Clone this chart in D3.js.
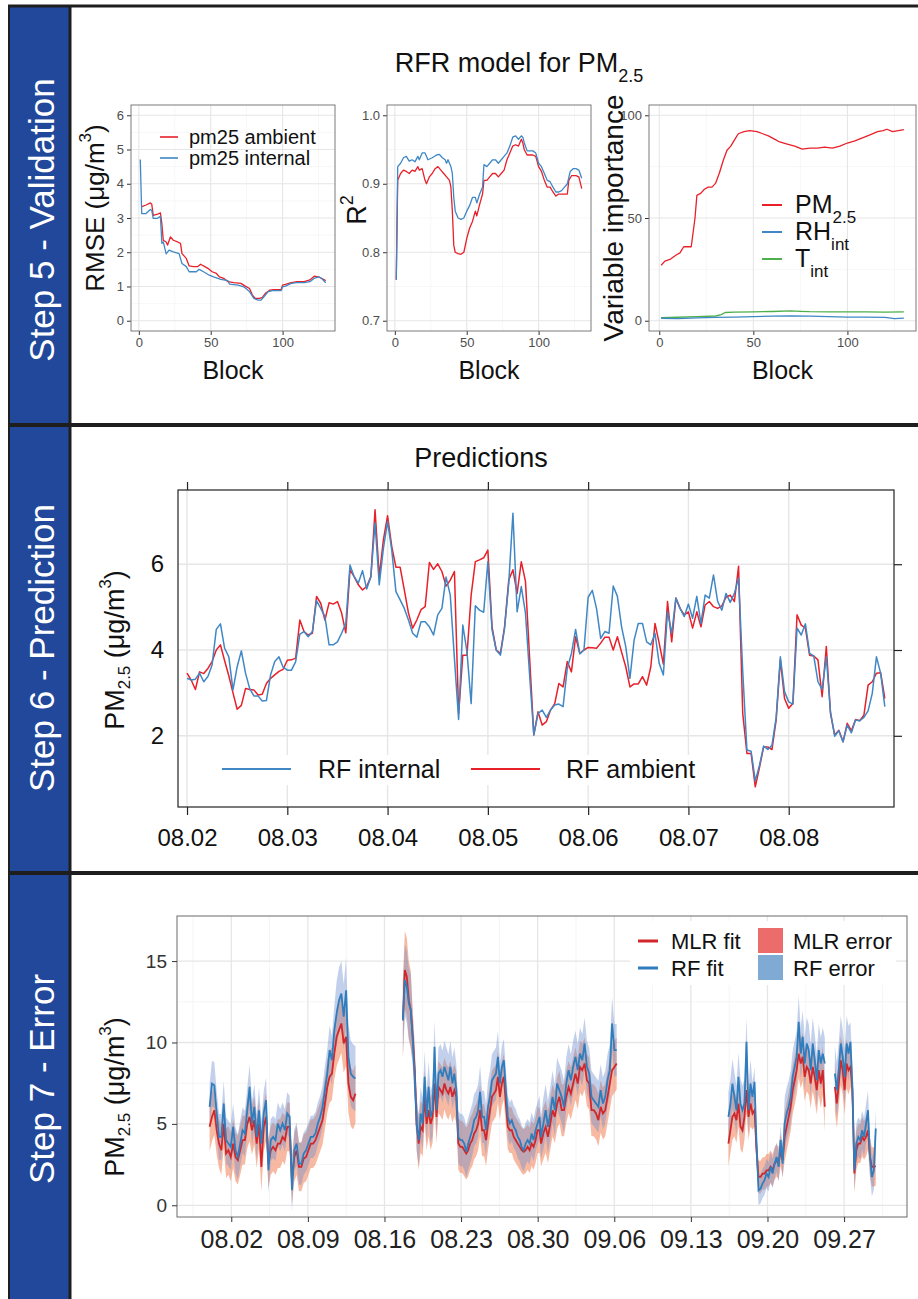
<!DOCTYPE html>
<html><head><meta charset="utf-8">
<script src="https://cdn.jsdelivr.net/npm/d3@7/dist/d3.min.js"></script>
<style>
html,body{margin:0;padding:0;background:#fff;}
svg{display:block;}
text{font-family:"Liberation Sans",Arial,Helvetica,sans-serif;}
</style></head><body>
<svg id="fig" width="918" height="1299"></svg>
<script>
// ================= DATA =================
// Step 5 – RMSE vs block
const rmseAmbBlock = [2,5,8,9,10,13,15,16,17,19,20,22,24,27,29,30,33,35,38,41,43,45,48,51,54,56,59,62,66,71,74,77,79,81,84,86,88,91,94,99,100,102,106,110,115,119,122,125,127,130];
const rmseAmb = [3.33,3.38,3.44,3.40,3.08,3.11,3.15,2.84,2.35,2.30,2.21,2.45,2.35,2.30,2.26,1.96,1.82,1.60,1.58,1.58,1.65,1.60,1.53,1.43,1.38,1.28,1.24,1.14,1.11,1.09,1.01,0.94,0.75,0.65,0.65,0.68,0.80,0.89,0.91,0.91,1.04,1.06,1.11,1.14,1.14,1.19,1.30,1.28,1.24,1.17];
const rmseIntBlock = [1,2,5,8,9,10,13,15,16,17,19,21,24,28,30,33,35,40,42,45,49,52,57,62,63,69,73,77,80,83,85,87,90,93,99,100,102,106,110,115,119,122,125,127,130];
const rmseInt = [4.71,3.13,3.13,3.25,3.22,2.99,2.99,3.05,2.26,2.30,1.95,2.06,2.01,1.96,1.67,1.58,1.43,1.43,1.50,1.43,1.33,1.28,1.21,1.17,1.07,1.04,0.99,0.85,0.65,0.60,0.60,0.70,0.85,0.88,0.88,0.99,1.01,1.09,1.11,1.11,1.14,1.24,1.28,1.24,1.11];
// Step 5 – R2 vs block
const r2IntBlock = [1,2,4,6,8,10,12,14,16,17,19,21,23,26,29,31,33,35,36,37,39,40,41,42,44,46,48,50,52,54,56,57,59,61,62,64,66,68,70,72,74,76,78,80,82,84,86,88,89,90,92,96,98,100,102,104,106,108,110,112,114,116,118,120,122,124,126,128,130];
const r2Int = [0.76,0.925,0.93,0.938,0.94,0.933,0.935,0.932,0.94,0.935,0.945,0.945,0.935,0.938,0.942,0.943,0.938,0.935,0.93,0.935,0.925,0.915,0.88,0.86,0.85,0.848,0.85,0.86,0.868,0.88,0.88,0.872,0.885,0.895,0.928,0.925,0.93,0.935,0.935,0.93,0.935,0.94,0.945,0.955,0.968,0.97,0.965,0.97,0.968,0.96,0.948,0.948,0.945,0.93,0.925,0.915,0.905,0.903,0.895,0.888,0.888,0.89,0.895,0.9,0.918,0.922,0.922,0.92,0.908];
const r2AmbBlock = [1,2,4,6,8,10,12,14,16,17,19,21,22,24,26,28,30,32,34,36,38,39,40,41,42,44,46,48,50,52,54,56,57,59,61,62,64,66,68,70,72,74,76,78,80,82,84,86,88,89,90,92,96,98,100,102,104,106,108,110,112,114,116,118,120,121,123,126,128,130];
const r2Amb = [0.76,0.905,0.915,0.92,0.918,0.915,0.92,0.918,0.925,0.92,0.922,0.905,0.9,0.91,0.915,0.922,0.925,0.92,0.915,0.91,0.905,0.895,0.86,0.81,0.8,0.798,0.797,0.8,0.82,0.835,0.845,0.86,0.853,0.87,0.885,0.905,0.905,0.91,0.915,0.915,0.91,0.915,0.92,0.935,0.945,0.955,0.957,0.955,0.965,0.96,0.95,0.942,0.942,0.94,0.925,0.918,0.905,0.895,0.895,0.888,0.882,0.885,0.885,0.885,0.885,0.905,0.912,0.912,0.91,0.893];
// Step 5 – variable importance vs block
const viPMBlock = [1,3,6,9,11,13,16,17,19,20,22,24,26,28,30,32,34,36,38,40,42,45,48,52,55,58,61,64,68,72,76,80,84,88,92,96,100,104,108,112,116,119,121,124,127,130];
const viPM = [27,29,30,32,33,36,36,36,50,61,62,64,65,65,67,72,78,83,85,88,91,92,92.5,92,91,90,88.5,87,86,85,83.5,84,84,84.5,84,85,86.5,87.5,89,90.5,92,92.5,93.2,92,92.5,93];
const viRHBlock = [1,10,20,30,40,50,60,70,80,90,100,110,120,125,130];
const viRH = [1.2,1.0,1.4,1.6,1.8,2.0,2.2,2.3,2.2,2.0,1.8,1.8,1.6,1.0,1.3];
const viTBlock = [1,10,20,30,33,35,40,50,60,70,75,80,90,100,110,120,130];
const viT = [1.5,1.7,2.0,2.3,3.0,4.0,4.2,4.3,4.5,4.8,4.6,4.4,4.3,4.3,4.3,4.2,4.3];

// Step 6 – hourly predictions starting 08.02 00:00
const predInternal = [3.34,3.30,3.32,3.46,3.26,3.38,3.65,4.48,4.61,4.04,3.84,3.07,3.61,3.98,3.46,3.10,2.93,2.93,2.81,2.82,3.42,3.73,3.84,3.60,
3.53,3.53,3.73,4.37,4.43,4.31,4.43,5.15,4.97,4.78,4.12,4.12,4.19,4.39,4.62,5.98,5.71,5.56,5.85,5.42,5.71,6.96,5.52,6.37,
7.00,6.33,5.36,5.17,4.97,4.70,4.39,4.30,4.66,4.66,4.54,4.35,4.82,4.97,5.70,5.28,3.80,2.38,4.58,3.96,2.75,5.03,4.93,4.88,
6.06,4.47,4.00,3.88,4.51,5.56,7.19,4.89,5.48,4.86,3.40,2.02,2.52,2.60,2.43,2.60,2.72,2.74,2.68,3.57,3.92,4.48,3.91,4.00,
5.23,5.39,4.97,4.27,4.43,4.39,5.49,5.25,4.54,4.08,3.34,4.23,4.62,4.62,4.19,4.12,4.39,3.69,3.42,4.89,4.39,5.21,4.97,4.78,
5.07,4.74,5.25,4.62,5.28,5.21,5.75,5.13,4.93,5.32,5.11,5.32,5.68,3.50,1.67,1.64,0.95,1.31,1.76,1.68,1.78,2.43,3.84,3.03,
2.79,2.74,4.51,4.35,4.61,3.92,3.86,3.26,3.08,3.84,2.56,1.99,2.12,1.86,2.25,2.07,2.37,2.35,2.43,2.58,2.99,3.84,3.46,2.68];
const predAmbient = [3.46,3.30,3.08,3.49,3.45,3.57,3.73,4.00,4.12,3.75,3.40,3.00,2.62,2.71,3.10,3.08,3.07,2.95,2.97,3.22,3.34,3.42,3.50,3.55,
3.76,3.77,3.81,4.70,4.43,4.35,4.39,5.25,5.09,4.70,5.10,5.07,5.13,4.86,4.40,5.87,5.71,5.52,5.40,5.48,5.71,7.27,5.71,6.57,
7.13,6.41,5.93,5.93,5.40,4.86,4.51,4.70,4.94,5.01,6.04,5.88,6.01,5.83,5.49,5.63,5.83,2.52,3.88,3.88,5.28,6.06,6.10,6.15,
6.33,4.54,4.00,3.92,4.54,5.63,5.87,5.32,6.06,5.60,3.80,2.02,2.56,2.25,2.33,2.60,2.75,3.22,3.14,3.73,3.49,4.31,3.92,4.00,
4.06,4.05,4.04,4.16,4.30,4.30,4.00,4.31,3.95,3.61,3.14,3.21,3.21,3.38,3.18,3.61,4.62,4.16,3.67,5.13,4.19,5.21,4.97,4.82,
4.89,4.51,4.89,4.54,5.05,5.13,5.01,4.97,5.03,5.23,5.28,5.13,5.95,2.52,1.59,1.59,0.81,1.26,1.74,1.74,1.68,2.37,3.77,2.87,
2.64,2.75,4.82,4.58,4.51,3.88,3.86,3.77,2.91,4.08,2.52,2.02,2.13,1.86,2.29,2.12,2.38,2.35,2.48,3.18,3.26,3.46,3.47,2.87];
const predDayLabels = ["08.02","08.03","08.04","08.05","08.06","08.07","08.08"];

// Step 7 – fits (days from 08.02), runs of equally spaced samples; runs with same seg are joined
const errRuns = [
 {seg:0, start:-1.98, step:0.215,
  rf:[6.05,7.48,7.38,5.64,4.2,4.2,6.25,4.0,3.79,3.59,4.82,3.38,2.97,3.79,4.61,4.41,5.84,7.27,5.02,6.05,4.2,5.84,3.79,5.64,6.45,2.15,4.0,4.2,4.0,5.02,4.61,5.02,4.61,5.64,5.43,0.92,3.38,3.79,2.56,2.56,3.18,3.38,3.79,4.2,4.2,4.41,5.02,5.43,6.05,7.07,8.09,9.53,8.91,10.76,11.78,12.6,13.0,11.58,13.2,9.12,8.09,7.89,7.79],
  mlr:[4.82,5.43,5.84,4.61,3.79,3.38,5.0,3.18,3.38,2.97,3.79,2.97,2.77,3.38,4.0,4.0,5.0,5.43,4.61,5.23,3.79,5.0,2.36,4.82,5.43,2.56,3.38,3.59,3.38,3.79,3.79,4.2,4.0,4.82,4.82,1.54,2.97,3.38,2.36,2.36,2.87,2.97,3.38,3.79,3.79,4.0,4.41,4.82,5.23,6.25,7.27,7.89,8.09,9.32,10.35,10.76,11.17,9.94,10.35,7.48,6.66,6.45,6.86]},
 {seg:1, start:15.68, step:0.181,
  rf:[11.37,13.83,13.42,12.4,11.99,10.14,7.89,4.92,4.0,5.64,5.02,7.89,5.43,7.27,5.43,5.84,9.73,5.84,8.09,8.3,7.89,8.5,8.09,7.68,8.5,7.48,8.09,7.07,4.2,4.0,4.0,3.79,3.28,3.79,4.2,4.61,5.23,5.43,5.84,6.97,5.43,5.43,4.61,6.05,6.66,7.68,7.89,8.09,9.12,7.48,8.5,8.91,7.07,5.43,5.02,5.23,4.82,4.61,4.2,4.0,3.59,3.38,3.79,4.0,3.79,4.41,4.0,4.61,5.02,5.43],
  mlr:[11.37,14.45,14.04,12.6,11.99,10.35,8.3,4.92,3.79,4.82,4.61,6.66,5.0,5.84,5.0,5.43,7.48,5.43,7.27,7.07,6.86,7.48,7.07,6.86,7.27,6.66,7.07,6.66,3.79,3.59,3.59,3.38,3.18,3.38,3.79,4.0,4.41,4.61,5.0,5.84,4.61,4.61,4.0,5.0,5.84,6.66,6.86,7.07,7.89,6.66,7.48,7.89,6.25,4.82,4.61,4.61,4.2,4.0,3.79,3.59,3.38,3.28,3.38,3.59,3.38,3.79,3.59,4.0,4.61,4.61]},
 {seg:1, start:28.31, step:0.2094,
  rf:[4.2,5.02,5.84,4.82,5.64,6.66,5.84,7.48,7.07,6.66,6.05,7.48,8.3,7.68,8.5,9.12,8.3,9.32,8.91,9.94,8.5,8.09,6.66,6.45,6.25,6.05,7.07,6.25,6.66,7.68,8.3,11.17,9.53,9.53],
  mlr:[3.79,4.41,4.82,4.2,5.0,5.84,5.43,6.25,6.66,5.84,5.84,6.66,7.27,6.86,7.48,8.09,7.48,8.5,8.3,8.71,7.68,7.48,5.84,5.84,5.64,5.23,6.05,5.64,5.84,6.66,7.48,8.3,8.5,8.71]},
 {seg:2, start:45.43, step:0.1835,
  rf:[5.43,6.25,7.48,6.66,5.84,7.89,6.25,5.84,6.25,10.04,5.84,7.48,6.66,7.58,3.79,0.92,1.02,1.33,1.54,1.95,1.74,2.36,1.95,2.56,2.97,2.36,4.0,2.56,5.02,5.64,6.05,6.66,7.89,8.5,9.12,11.27,9.32,10.35,8.71,9.94,9.53,8.3,9.94,8.91,7.68,9.53,8.71,9.32,8.71],
  mlr:[3.79,4.61,5.43,5.64,5.23,6.25,4.82,4.61,5.43,7.07,5.43,6.25,5.64,5.84,3.38,1.74,1.74,1.95,1.95,2.15,2.15,2.36,2.15,2.56,2.77,2.56,3.38,2.77,4.2,4.82,5.43,6.05,7.07,7.68,8.3,9.32,8.71,9.12,7.89,8.5,8.3,7.48,8.5,7.89,7.07,8.3,7.48,8.3,6.05]},
 {seg:3, start:55.16, step:0.178,
  rf:[8.09,7.07,8.3,9.94,9.12,7.89,9.94,9.32,10.04,7.27,2.15,3.79,4.2,4.0,4.61,4.2,5.02,5.84,2.97,1.74,2.15,4.72],
  mlr:[7.27,6.25,7.48,8.91,8.3,7.07,8.71,8.3,8.5,7.07,1.95,3.38,3.79,3.79,4.2,4.0,4.2,4.61,2.97,2.36,2.36,2.4]}
];
// daily error half-widths, day -2 ... 59
const rfErrDaily  = [1.4,1.4,1.4,1.4,1.4,1.4, 1.3,1.3,1.3,1.3,1.3, 1.5, 2.0,2.0, 1.5,1.5,1.5, 2.2,2.2, 1.6,1.6,1.6,1.6,1.6,1.6,1.6,1.6, 1.3,1.3,1.3,1.3, 1.6,1.6,1.6,1.6,1.6,1.6,1.6, 1.5,1.5,1.5,1.5,1.5,1.5,1.5,1.5,1.5, 1.5,1.5,1.5, 0.9,0.9,0.9, 1.6,1.6,1.6,1.6, 1.7,1.7, 1.2,1.2,1.2];
const mlrErrDaily = [1.5,1.5,1.5,1.5,1.5,1.5, 1.5,1.5,1.5,1.5,1.5, 1.6, 1.8,1.8, 1.5,1.5,1.5, 2.4,2.4, 1.6,1.6,1.6,1.6,1.6,1.6,1.6,1.6, 1.4,1.4,1.4,1.4, 1.6,1.6,1.6,1.6,1.6,1.6,1.6, 1.5,1.5,1.5,1.5,1.5,1.5,1.5,1.5,1.5, 1.4,1.4,1.4, 1.0,1.0,1.0, 1.5,1.5,1.5,1.5, 1.5,1.5, 1.2,1.2,1.2];
const errTickDays = [0,7,14,21,28,35,42,49,56];
const errTickLabels = ["08.02","08.09","08.16","08.23","08.30","09.06","09.13","09.20","09.27"];

// ================= DRAW =================
const svg = d3.select("#fig");
const RED = "#e8202a", BLUE = "#3f88c5", GREEN = "#4daf4a";
let cid = 0;
function clipRect(x0,y0,x1,y1){
  const id = "cp"+(cid++);
  svg.append("clipPath").attr("id",id).append("rect").attr("x",x0).attr("y",y0).attr("width",x1-x0).attr("height",y1-y0);
  return "url(#"+id+")";
}
function styleAxis(g, size, color){
  g.attr("font-size",null).attr("font-family",null);
  g.select(".domain").remove();
  g.selectAll("text").attr("font-size",size).attr("fill",color);
  g.selectAll("line").attr("stroke","#333");
}
function gridLines(g, xs, ys, xVals, yVals, color, width){
  const [x0,x1] = xs.range(), [y1,y0] = ys.range();
  g.selectAll(null).data(xVals).enter().append("line")
   .attr("x1",d=>xs(d)).attr("x2",d=>xs(d)).attr("y1",y0).attr("y2",y1)
   .attr("stroke",color).attr("stroke-width",width);
  g.selectAll(null).data(yVals).enter().append("line")
   .attr("y1",d=>ys(d)).attr("y2",d=>ys(d)).attr("x1",x0).attr("x2",x1)
   .attr("stroke",color).attr("stroke-width",width);
}
function pmLabel(x,y,size){
  const t = svg.append("text").attr("transform",`translate(${x},${y}) rotate(-90)`).attr("text-anchor","middle").attr("dominant-baseline","central").attr("font-size",size).attr("fill","#111");
  t.append("tspan").text("PM");
  t.append("tspan").attr("baseline-shift","sub").attr("font-size",size*0.63).text("2.5");
  t.append("tspan").text(" (μg/m");
  t.append("tspan").attr("baseline-shift","super").attr("font-size",size*0.63).text("3");
  t.append("tspan").text(")");
}

// ---------- frame ----------
svg.append("rect").attr("x",9).attr("y",6).attr("width",61).attr("height",1293).attr("fill","#21489a");
[[6,3],[425,4],[873,4]].forEach(([y,w])=>svg.append("line").attr("x1",8).attr("x2",918).attr("y1",y).attr("y2",y).attr("stroke","#1e1e1e").attr("stroke-width",w));
svg.append("line").attr("x1",9).attr("x2",9).attr("y1",5).attr("y2",1299).attr("stroke","#1e1e1e").attr("stroke-width",2);
svg.append("line").attr("x1",70).attr("x2",70).attr("y1",5).attr("y2",1299).attr("stroke","#1e1e1e").attr("stroke-width",3);
[["Step 5 - Validation",220],["Step 6 - Prediction",648],["Step 7 - Error",1079]].forEach(([t,y])=>{
  svg.append("text").attr("transform",`translate(41,${y}) rotate(-90)`).attr("text-anchor","middle")
   .attr("dominant-baseline","central").attr("fill","#fff").attr("font-size",35).text(t);
});

// ---------- Step 5 ----------
const t5 = svg.append("text").attr("x",519).attr("y",72).attr("text-anchor","middle").attr("font-size",27).attr("fill","#111");
t5.append("tspan").text("RFR model for PM");
t5.append("tspan").attr("baseline-shift","sub").attr("font-size",18).text("2.5");

function topPanel(x0,x1,yDom,yMaj,yMin,yFmt){
  const xs = d3.scaleLinear().domain([-5.45,136.45]).range([x0,x1]);
  const ys = d3.scaleLinear().domain(yDom).range([331,105]);
  const g = svg.append("g");
  g.append("rect").attr("x",x0).attr("y",105).attr("width",x1-x0).attr("height",226).attr("fill","#fff");
  gridLines(g, xs, ys, [25,75,125], yMin, "#f2f2f2", 0.6);
  gridLines(g, xs, ys, [0,50,100], yMaj, "#e6e6e6", 1.1);
  const ax = g.append("g").attr("transform","translate(0,331)").call(d3.axisBottom(xs).tickValues([0,50,100]).tickSize(4).tickPadding(3));
  styleAxis(ax, 13, "#4d4d4d");
  const ay = g.append("g").attr("transform",`translate(${x0},0)`).call(d3.axisLeft(ys).tickValues(yMaj).tickSize(4).tickPadding(3).tickFormat(yFmt));
  styleAxis(ay, 13, "#4d4d4d");
  const data = g.append("g").attr("clip-path", clipRect(x0,105,x1,331));
  g.append("rect").attr("x",x0).attr("y",105).attr("width",x1-x0).attr("height",226).attr("fill","none").attr("stroke","#7a7a7a").attr("stroke-width",1);
  g.append("text").attr("x",(x0+x1)/2).attr("y",379).attr("text-anchor","middle").attr("font-size",25).attr("fill","#111").text("Block");
  return {xs, ys, data};
}
function drawLine(layer, xs, ys, xArr, yArr, color, w){
  const pts = xArr.map((x,i)=>[x,yArr[i]]);
  layer.append("path").attr("d", d3.line().x(d=>xs(d[0])).y(d=>ys(d[1]))(pts))
    .attr("fill","none").attr("stroke",color).attr("stroke-width",w).attr("stroke-linejoin","round");
}
// RMSE panel
const p1 = topPanel(131,335,[-0.3,6.3],[0,1,2,3,4,5,6],[0.5,1.5,2.5,3.5,4.5,5.5],d3.format("d"));
drawLine(p1.data,p1.xs,p1.ys,rmseAmbBlock,rmseAmb,RED,1.3);
drawLine(p1.data,p1.xs,p1.ys,rmseIntBlock,rmseInt,BLUE,1.3);
[["pm25 ambient",RED,137],["pm25 internal",BLUE,158]].forEach(([t,c,y])=>{
  svg.append("line").attr("x1",160).attr("x2",178).attr("y1",y).attr("y2",y).attr("stroke",c).attr("stroke-width",1.6);
  svg.append("text").attr("x",189).attr("y",y).attr("dominant-baseline","central").attr("font-size",20).attr("fill","#111").text(t);
});
const yl1 = svg.append("text").attr("transform","translate(95,208) rotate(-90)").attr("text-anchor","middle").attr("dominant-baseline","central").attr("font-size",26).attr("fill","#111");
yl1.append("tspan").text("RMSE (μg/m");
yl1.append("tspan").attr("baseline-shift","super").attr("font-size",17).text("3");
yl1.append("tspan").text(")");
// R2 panel
const p2 = topPanel(387,591,[0.685,1.015],[0.7,0.8,0.9,1.0],[0.75,0.85,0.95],d3.format(".1f"));
drawLine(p2.data,p2.xs,p2.ys,r2AmbBlock,r2Amb,RED,1.3);
drawLine(p2.data,p2.xs,p2.ys,r2IntBlock,r2Int,BLUE,1.3);
const yl2 = svg.append("text").attr("transform","translate(357,210) rotate(-90)").attr("text-anchor","middle").attr("dominant-baseline","central").attr("font-size",27).attr("fill","#111");
yl2.append("tspan").text("R");
yl2.append("tspan").attr("baseline-shift","super").attr("font-size",18).text("2");
// Variable importance panel
const p3 = topPanel(649,916,[-5,105],[0,50,100],[25,75],d3.format("d"));
drawLine(p3.data,p3.xs,p3.ys,viTBlock,viT,GREEN,1.3);
drawLine(p3.data,p3.xs,p3.ys,viRHBlock,viRH,BLUE,1.3);
drawLine(p3.data,p3.xs,p3.ys,viPMBlock,viPM,RED,1.3);
svg.append("text").attr("transform","translate(613,218) rotate(-90)").attr("text-anchor","middle").attr("dominant-baseline","central").attr("font-size",28).attr("fill","#111").text("Variable importance");
[["PM","2.5",RED,205],["RH","int",BLUE,232],["T","int",GREEN,259]].forEach(([a,b,c,y])=>{
  svg.append("line").attr("x1",762).attr("x2",782).attr("y1",y).attr("y2",y).attr("stroke",c).attr("stroke-width",2);
  const t = svg.append("text").attr("x",795).attr("y",y+8).attr("font-size",25).attr("fill","#111");
  t.append("tspan").text(a);
  t.append("tspan").attr("baseline-shift","sub").attr("font-size",17).text(b);
});

// ---------- Step 6 ----------
{
  const x0=178,x1=894,y0=490,y1=807;
  const xs = d3.scaleLinear().domain([-0.09,7.05]).range([x0,x1]);
  const ys = d3.scaleLinear().domain([0.34,7.73]).range([y1,y0]);
  const g = svg.append("g");
  svg.append("text").attr("x",481).attr("y",467).attr("text-anchor","middle").attr("font-size",27).attr("fill","#111").text("Predictions");
  gridLines(g, xs, ys, d3.range(7), [2,4,6], "#e6e6e6", 1.4);
  // legend background
  g.append("rect").attr("x",205).attr("y",755).attr("width",500).attr("height",30).attr("fill","#fff");
  const data = g.append("g").attr("clip-path", clipRect(x0,y0,x1,y1));
  const hrs = predInternal.map((v,i)=>i/24);
  drawLine(data, xs, ys, hrs, predAmbient, RED, 1.5);
  drawLine(data, xs, ys, hrs, predInternal, BLUE, 1.5);
  g.append("rect").attr("x",x0).attr("y",y0).attr("width",x1-x0).attr("height",y1-y0).attr("fill","none").attr("stroke","#222").attr("stroke-width",1.2);
  const fmtD = (d,i)=>predDayLabels[i];
  const ab = g.append("g").attr("transform",`translate(0,${y1})`).call(d3.axisBottom(xs).tickValues(d3.range(7)).tickSize(8).tickPadding(14).tickFormat(fmtD));
  styleAxis(ab, 24, "#111");
  const at = g.append("g").attr("transform",`translate(0,${y0})`).call(d3.axisTop(xs).tickValues(d3.range(7)).tickSize(8).tickFormat(""));
  styleAxis(at, 1, "#111");
  const al = g.append("g").attr("transform",`translate(${x0},0)`).call(d3.axisLeft(ys).tickValues([2,4,6]).tickSize(0).tickPadding(14).tickFormat(d3.format("d")));
  styleAxis(al, 24, "#111");
  const ar = g.append("g").attr("transform",`translate(${x1},0)`).call(d3.axisRight(ys).tickValues([2,4,6]).tickSize(8).tickFormat(""));
  styleAxis(ar, 1, "#111");
  g.selectAll("g.tick line").attr("stroke","#222").attr("stroke-width",1.2);
  // legend
  [["RF internal",BLUE,222,291,318],["RF ambient",RED,471,540,566]].forEach(([t,c,a,b,tx])=>{
    g.append("line").attr("x1",a).attr("x2",b).attr("y1",769).attr("y2",769).attr("stroke",c).attr("stroke-width",1.8);
    g.append("text").attr("x",tx).attr("y",769).attr("dominant-baseline","central").attr("font-size",25).attr("fill","#111").text(t);
  });
  pmLabel(115,650,27);
}

// ---------- Step 7 ----------
{
  const x0=177,x1=907,y0=916,y1=1217;
  const xs = d3.scaleLinear().domain([-4.96,61.75]).range([x0,x1]);
  const ys = d3.scaleLinear().domain([-0.72,17.77]).range([y1,y0]);
  const g = svg.append("g");
  g.append("rect").attr("x",x0).attr("y",y0).attr("width",x1-x0).attr("height",y1-y0).attr("fill","#fff");
  gridLines(g, xs, ys, errTickDays.map(d=>d-3.5).concat([59.5]), [2.5,7.5,12.5], "#f1f1f1", 0.7);
  gridLines(g, xs, ys, errTickDays, [0,5,10,15], "#e6e6e6", 1.3);
  const segs = d3.groups(errRuns.flatMap(r=>r.rf.map((v,i)=>{
      const t = r.start + i*r.step;
      const di = Math.max(0, Math.min(rfErrDaily.length-1, Math.round(t)+2));
      return {seg:r.seg, t, rf:v, mlr:r.mlr[i], er:rfErrDaily[di], em:mlrErrDaily[di]};
    })), d=>d.seg).map(d=>d[1]);
  const data = g.append("g").attr("clip-path", clipRect(x0,y0,x1,y1));
  const area = (k,e)=>d3.area().x(d=>xs(d.t)).y0(d=>ys(d[k]-d[e])).y1(d=>ys(d[k]+d[e]));
  segs.forEach(s=>data.append("path").attr("d",area("mlr","em")(s)).attr("fill","#f28a64").attr("fill-opacity",0.6));
  segs.forEach(s=>data.append("path").attr("d",area("rf","er")(s)).attr("fill","#6f8fd0").attr("fill-opacity",0.42));
  const ln = k=>d3.line().x(d=>xs(d.t)).y(d=>ys(d[k]));
  segs.forEach(s=>data.append("path").attr("d",ln("mlr")(s)).attr("fill","none").attr("stroke","#d2272a").attr("stroke-width",1.8));
  segs.forEach(s=>data.append("path").attr("d",ln("rf")(s)).attr("fill","none").attr("stroke","#2f7dbd").attr("stroke-width",1.8));
  g.append("rect").attr("x",x0).attr("y",y0).attr("width",x1-x0).attr("height",y1-y0).attr("fill","none").attr("stroke","#6a6a6a").attr("stroke-width",1);
  const ab = g.append("g").attr("transform",`translate(0,${y1})`).call(d3.axisBottom(xs).tickValues(errTickDays).tickSize(5).tickPadding(8).tickFormat((d,i)=>errTickLabels[i]));
  styleAxis(ab, 25, "#222");
  const al = g.append("g").attr("transform",`translate(${x0},0)`).call(d3.axisLeft(ys).tickValues([0,5,10,15]).tickSize(5).tickPadding(5).tickFormat(d3.format("d")));
  styleAxis(al, 19, "#333");
  // legend
  g.append("rect").attr("x",630).attr("y",921).attr("width",266).attr("height",64).attr("fill","#fff");
  [["MLR fit","#d2272a",941],["RF fit","#2f7dbd",968]].forEach(([t,c,y])=>{
    g.append("line").attr("x1",638).attr("x2",658).attr("y1",y).attr("y2",y).attr("stroke",c).attr("stroke-width",3);
    g.append("text").attr("x",671).attr("y",y).attr("dominant-baseline","central").attr("font-size",22).attr("fill","#111").text(t);
  });
  [["MLR error","#ec6c6b",928,941],["RF error","#7eaad3",955,968]].forEach(([t,c,ry,y])=>{
    g.append("rect").attr("x",758).attr("y",ry).attr("width",25).attr("height",25).attr("fill",c);
    g.append("text").attr("x",793).attr("y",y).attr("dominant-baseline","central").attr("font-size",22).attr("fill","#111").text(t);
  });
  pmLabel(115,1097,27);
}
</script></body></html>
